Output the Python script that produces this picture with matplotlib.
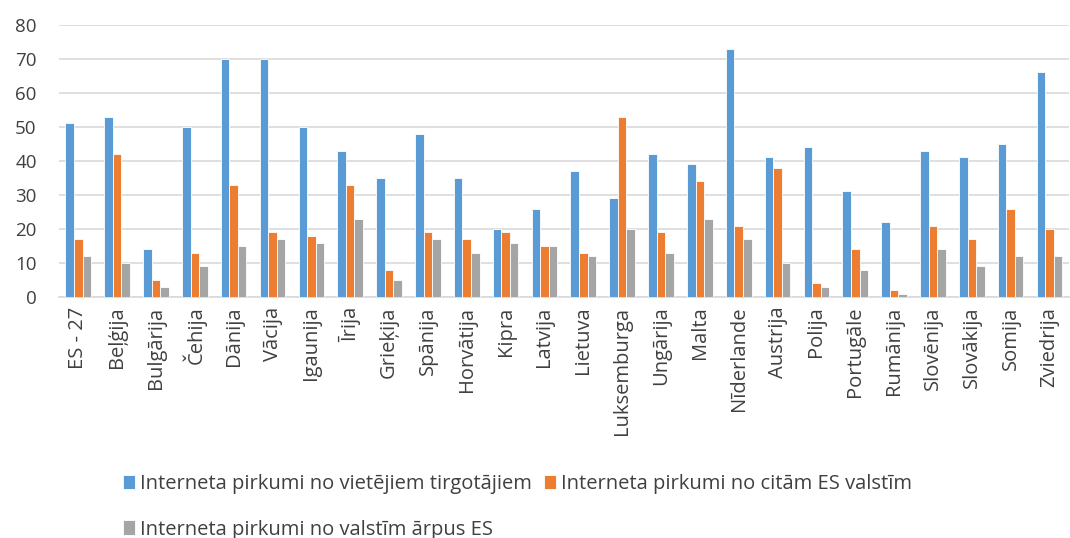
import numpy as np
import matplotlib.pyplot as plt

countries = ['ES - 27', 'Beļģija', 'Bulgārija', 'Čehija', 'Dānija', 'Vācija', 'Igaunija',
             'Īrija', 'Grieķija', 'Spānija', 'Horvātija', 'Kipra', 'Latvija', 'Lietuva',
             'Luksemburga', 'Ungārija', 'Malta', 'Nīderlande', 'Austrija', 'Polija',
             'Portugāle', 'Rumānija', 'Slovēnija', 'Slovākija', 'Somija', 'Zviedrija']
local = [51, 53, 14, 50, 70, 70, 50, 43, 35, 48, 35, 20, 26, 37, 29, 42, 39, 73, 41, 44,
         31, 22, 43, 41, 45, 66]
other_eu = [17, 42, 5, 13, 33, 19, 18, 33, 8, 19, 17, 19, 15, 13, 53, 19, 34, 21, 38, 4,
            14, 2, 21, 17, 26, 20]
non_eu = [12, 10, 3, 9, 15, 17, 16, 23, 5, 17, 13, 16, 15, 12, 20, 13, 23, 17, 10, 3,
          8, 1, 14, 9, 12, 12]
labels = ['Interneta pirkumi no vietējiem tirgotājiem',
          'Interneta pirkumi no citām ES valstīm',
          'Interneta pirkumi no valstīm ārpus ES']
colors = ['#5B9BD5', '#ED7D31', '#A5A5A5']

plt.rcParams['font.family'] = ['Open Sans', 'DejaVu Sans']

fig = plt.figure(figsize=(10.7, 5.38), dpi=100)
ax = fig.add_axes([0.055, 0.448, 0.944, 0.506])

x = np.arange(len(countries))
w = 0.22
bars = []
for i, (vals, c, lab) in enumerate(zip([local, other_eu, non_eu], colors, labels)):
    b = ax.bar(x + (i - 1) * w, vals, width=w, color=c, edgecolor='white',
               linewidth=0.6, label=lab, zorder=3)
    bars.append(b)

ax.set_xlim(-0.5, len(countries) - 0.5)
ax.set_ylim(0, 80)
ax.set_yticks(range(0, 81, 10))
ax.set_xticks(x)
ax.set_xticklabels(countries, rotation=90, fontsize=14.5, color='#404040')
ax.tick_params(axis='y', labelsize=13.5, colors='#404040', length=0, pad=16)
ax.tick_params(axis='x', length=0, pad=7)
ax.grid(axis='y', color='#D9D9D9', linewidth=1.2, zorder=0)
for s in ['top', 'right', 'left']:
    ax.spines[s].set_visible(False)
ax.spines['bottom'].set_color('#D9D9D9')
ax.spines['bottom'].set_linewidth(1.2)

# two items on the first row, one on the second
leg = fig.legend([bars[0], bars[2], bars[1]], [labels[0], labels[2], labels[1]],
                 ncol=2, loc='upper left', bbox_to_anchor=(0.098, 0.152),
                 frameon=False, fontsize=14.5, handlelength=0.6, handleheight=0.7,
                 handletextpad=0.25, columnspacing=0.6, labelspacing=1.25,
                 labelcolor='#404040')

fig.savefig('out.png', dpi=100)
